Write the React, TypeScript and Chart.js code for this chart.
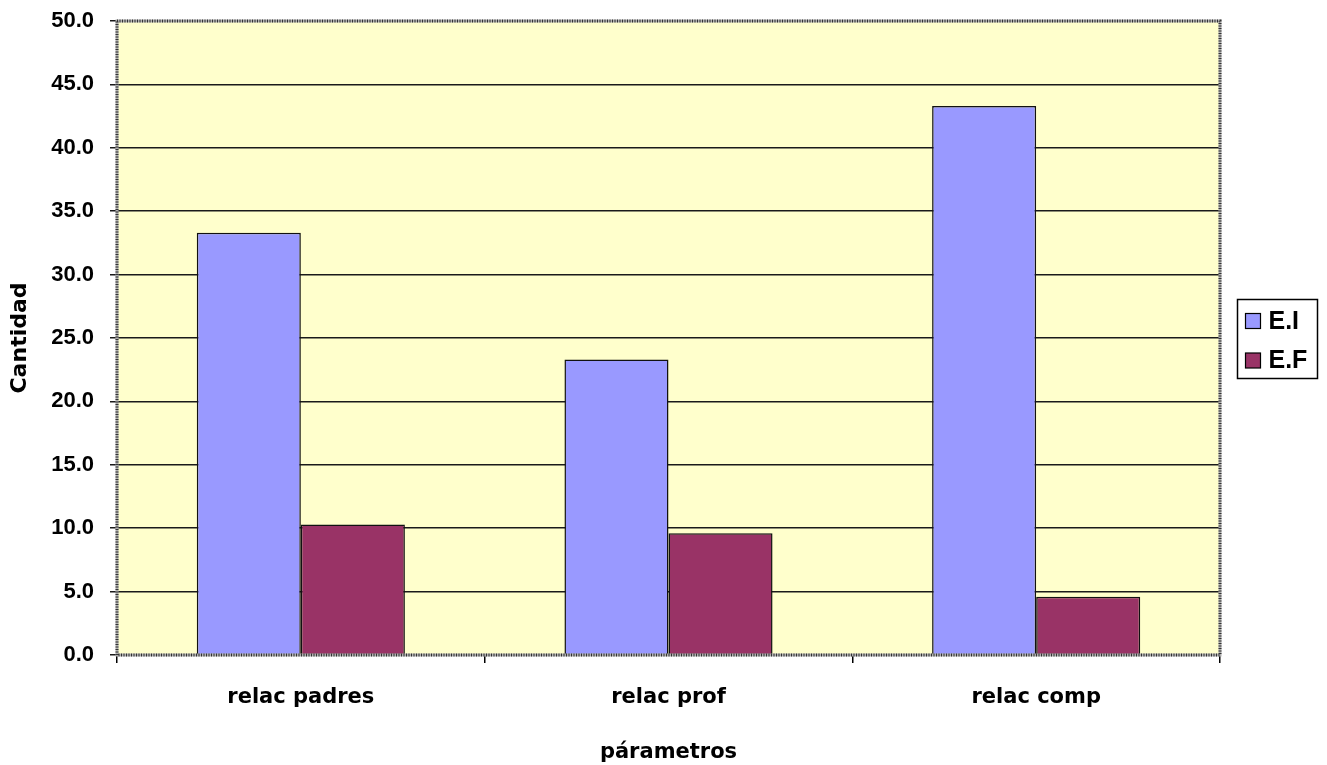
import React, { useEffect, useRef } from 'react';
import { Chart, registerables } from 'chart.js';

Chart.register(...registerables);

const categories = ['relac padres', 'relac prof', 'relac comp'];
const seriesNames = ['E.I', 'E.F'];
const seriesEI = [33.3, 23.3, 43.3];
const seriesEF = [10.3, 9.6, 4.6];
const seriesColors = ['#9999FF', '#993366'];
const yMin = 0;
const yMax = 50;
const yStep = 5;
const xTitle = 'párametros';
const yTitle = 'Cantidad';

const plotBgPlugin = {
  id: 'plotBg',
  beforeDraw(chart: any) {
    const { ctx, chartArea: a, width, height } = chart;
    ctx.save();
    ctx.fillStyle = '#FFFFFF';
    ctx.fillRect(0, 0, width, height);
    ctx.fillStyle = '#FFFFCC';
    ctx.fillRect(a.left, a.top, a.right - a.left, a.bottom - a.top);
    ctx.restore();
  },
};

const plotBorderPlugin = {
  id: 'plotBorder',
  afterDatasetsDraw(chart: any) {
    const { ctx, chartArea: a } = chart;
    ctx.save();
    ctx.lineWidth = 3;
    ctx.strokeStyle = '#B0B0B0';
    ctx.strokeRect(a.left, a.top, a.right - a.left, a.bottom - a.top);
    ctx.setLineDash([1, 1.5]);
    ctx.strokeStyle = '#333333';
    ctx.strokeRect(a.left, a.top, a.right - a.left, a.bottom - a.top);
    ctx.restore();
  },
};

const legendPlugin = {
  id: 'customLegend',
  afterDraw(chart: any) {
    const { ctx } = chart;
    const boxX = 1237.5;
    const boxY = 299.5;
    const boxW = 80;
    const boxH = 79;
    ctx.save();
    ctx.lineWidth = 1.5;
    ctx.strokeStyle = '#000';
    ctx.strokeRect(boxX, boxY, boxW, boxH);
    chart.data.datasets.forEach((ds: any, i: number) => {
      const cy = boxY + 21.5 + i * 39.5;
      ctx.fillStyle = ds.backgroundColor;
      ctx.fillRect(boxX + 8, cy - 7.5, 15, 15);
      ctx.lineWidth = 1.2;
      ctx.strokeStyle = '#000';
      ctx.strokeRect(boxX + 8, cy - 7.5, 15, 15);
      ctx.fillStyle = '#000';
      ctx.font = 'bold 25px "Liberation Sans", Arial, sans-serif';
      ctx.textBaseline = 'middle';
      ctx.textAlign = 'left';
      ctx.fillText(ds.label, boxX + 31, cy + 1);
    });
    ctx.restore();
  },
};

export default function App() {
  const canvasRef = useRef<HTMLCanvasElement | null>(null);

  useEffect(() => {
    const canvas = canvasRef.current;
    if (!canvas) return;
    const chart = new Chart(canvas, {
      type: 'bar',
      data: {
        labels: categories,
        datasets: [
          {
            label: seriesNames[0],
            data: seriesEI,
            backgroundColor: seriesColors[0],
            borderColor: '#111',
            borderWidth: 1.5,
            categoryPercentage: 0.566,
            barPercentage: 1,
          },
          {
            label: seriesNames[1],
            data: seriesEF,
            backgroundColor: seriesColors[1],
            borderColor: '#111',
            borderWidth: 1.5,
            categoryPercentage: 0.566,
            barPercentage: 1,
          },
        ],
      },
      options: {
        responsive: false,
        animation: false,
        devicePixelRatio: 1,
        layout: { padding: { top: 21, right: 107, left: 0, bottom: 0 } },
        plugins: {
          legend: { display: false },
          tooltip: { enabled: false },
        },
        scales: {
          x: {
            offset: true,
            grid: {
              display: true,
              offset: true,
              drawOnChartArea: false,
              drawTicks: true,
              tickLength: 8,
              color: '#000',
              lineWidth: 1.5,
            },
            border: { display: false },
            ticks: {
              color: '#000',
              padding: 22,
              font: { family: '"DejaVu Sans", sans-serif', weight: 'bold', size: 21 },
            },
            title: {
              display: true,
              text: xTitle,
              color: '#000',
              padding: { top: 0, bottom: 0 },
              font: { family: '"DejaVu Sans", sans-serif', weight: 'bold', size: 21 },
            },
            afterFit: (s: any) => {
              s.height = 110;
              s.paddingLeft = 0;
              s.paddingRight = 0;
            },
          },
          y: {
            min: yMin,
            max: yMax,
            grid: {
              color: '#1a1a1a',
              lineWidth: 1.5,
              drawTicks: true,
              tickLength: 7,
            },
            border: { display: false },
            ticks: {
              stepSize: yStep,
              color: '#000',
              padding: 16,
              font: { family: '"Liberation Sans", Arial, sans-serif', weight: 'bold', size: 22 },
              callback: (v: any) => Number(v).toFixed(1),
            },
            title: {
              display: true,
              text: yTitle,
              color: '#000',
              padding: { top: 7, bottom: 0 },
              font: { family: '"DejaVu Sans", sans-serif', weight: 'bold', size: 22 },
            },
            afterFit: (s: any) => {
              s.width = 117;
              s.paddingTop = 0;
              s.paddingBottom = 0;
            },
          },
        },
      },
      plugins: [plotBgPlugin, plotBorderPlugin, legendPlugin],
    } as any);
    return () => chart.destroy();
  }, []);

  return (
    <div style={{ position: 'absolute', left: 0, top: 0, width: 1327, height: 765, background: '#fff' }}>
      <canvas ref={canvasRef} width={1327} height={765} style={{ display: 'block' }} />
    </div>
  );
}
